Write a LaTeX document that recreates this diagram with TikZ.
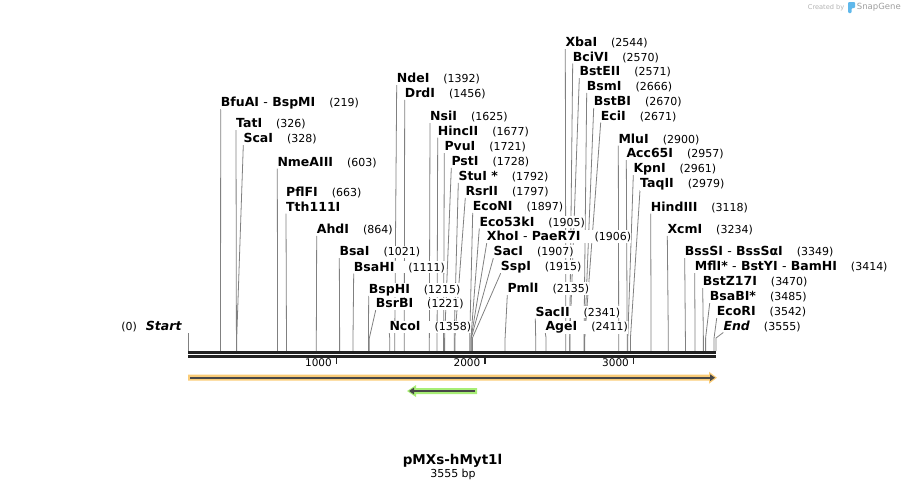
\documentclass[tikz,border=0pt]{standalone}
\usepackage{fontspec}
\setmainfont{DejaVu Sans}
\usetikzlibrary{arrows.meta,positioning,calc,backgrounds}

\definecolor{cutgray}{RGB}{128,128,128}
\definecolor{bargray}{RGB}{34,34,34}
\definecolor{featorange}{RGB}{250,204,120}
\definecolor{featgreen}{RGB}{168,238,118}
\definecolor{featline}{RGB}{72,72,72}
\definecolor{snapblue}{RGB}{96,184,235}

\newcommand{\enzfont}{\fontsize{12.5}{14}\selectfont\bfseries}
\newcommand{\numfont}{\fontsize{11}{13}\selectfont\mdseries}

\begin{document}
\begin{tikzpicture}[x=1pt,y=-1pt]
\useasboundingbox (0,0) rectangle (905,490);

% set style here
\tikzstyle{enz}=[anchor=base west,inner xsep=0pt,inner ysep=1pt,fill=white,font=\enzfont]
\tikzstyle{cut}=[draw=cutgray,line width=0.8pt]
\tikzstyle{tick}=[draw=bargray,line width=1.5pt]
%

% the sequence bar, 0..3555 bp
\coordinate (bar0) at (188,352.3);
\coordinate (bar1) at (716,352.3);
\draw[bargray,line width=2.7pt] (bar0) -- (bar1);
\draw[bargray,line width=2.7pt] ([yshift=-4pt]bar0) -- ([yshift=-4pt]bar1);

% scale ticks
\foreach \t in {1000,2000,3000} {
  \coordinate (t\t) at ({188+\t/3555*528},357.7);
  \draw[tick] (t\t) -- ++(0,6.6);
  \node (tl\t) [anchor=base east,inner sep=0pt,font=\fontsize{10.5}{12}\selectfont]
    at ($(t\t)+(-4.5,9)$) {\t};
}

% start of the sequence
\coordinate (s0) at (188,351);
\coordinate (s0top) at (188,333);
\draw[cut] (s0) -- (s0top);
\node (start) at (181.7,330.7) [anchor=base east,inner sep=0pt]
  {\numfont(0)\hspace{9pt}\enzfont\itshape Start};

% enzyme sites: bp / label x / label baseline / name / position
\foreach \bp/\lx/\ly/\nm/\num [count=\i] in {
  219/220.7/106.7/{BfuAI \textmd{-} BspMI}/(219),
  326/236/127.7/{TatI}/(326),
  328/243.3/142.7/{ScaI}/(328),
  603/277.3/166/{NmeAIII}/(603),
  663/286/211/{Tth111I}/{},
  864/316.7/233.3/{AhdI}/(864),
  1021/339.3/255.7/{BsaI}/(1021),
  1111/353.7/271/{BsaHI}/(1111),
  1215/368.7/293.3/{BspHI}/(1215),
  1221/375.7/307.7/{BsrBI}/(1221),
  1358/389.3/330.7/{NcoI}/(1358),
  1392/396.7/82.7/{NdeI}/(1392),
  1456/404.7/97.3/{DrdI}/(1456),
  1625/430/120.7/{NsiI}/(1625),
  1677/437.7/135/{HincII}/(1677),
  1721/444.3/150.7/{PvuI}/(1721),
  1728/451.3/165.3/{PstI}/(1728),
  1792/458.3/180.3/{StuI *}/(1792),
  1797/465.3/195.3/{RsrII}/(1797),
  1897/472.7/210.3/{EcoNI}/(1897),
  1905/479.3/226/{Eco53kI}/(1905),
  1906/486.7/240.7/{XhoI \textmd{-} PaeR7I}/(1906),
  1907/493.3/255.7/{SacI}/(1907),
  1915/500.7/270.7/{SspI}/(1915),
  2135/507.3/292.7/{PmlI}/(2135),
  2341/535.3/316/{SacII}/(2341),
  2411/545.3/330.7/{AgeI}/(2411),
  2544/565.3/46.7/{XbaI}/(2544),
  2570/572.7/61/{BciVI}/(2570),
  2571/579.3/75.7/{BstEII}/(2571),
  2666/586.7/90.3/{BsmI}/(2666),
  2670/593.7/105.3/{BstBI}/(2670),
  2671/600.7/120/{EciI}/(2671),
  2900/618.3/143/{MluI}/(2900),
  2957/626.3/157.7/{Acc65I}/(2957),
  2961/633.3/172.7/{KpnI}/(2961),
  2979/640/187.7/{TaqII}/(2979),
  3118/650.7/211/{HindIII}/(3118),
  3234/667.3/233.3/{XcmI}/(3234),
  3349/684.7/255.7/{BssSI \textmd{-} BssSαI}/(3349),
  3414/694.7/270.7/{MflI* \textmd{-} BstYI \textmd{-} BamHI}/(3414),
  3470/702.7/285.7/{BstZ17I}/(3470),
  3485/709.7/300.7/{BsaBI*}/(3485),
  3542/716.7/315.7/{EcoRI}/(3542),
  3555/723.3/330/{\textit{End}}/(3555)} {
  \coordinate (s\i) at ({188+\bp/3555*528},351);
  \node (e\i) [enz] at (\lx,\ly) {\nm\hspace{14pt}\numfont\num};
  \begin{pgfonlayer}{background}
    \draw[cut] (s\i) -- ++(0,-13) -- ([yshift=-2.5pt]e\i.base west);
  \end{pgfonlayer}
}

% second name on the Tth111I site
\node (pflfi) at (286,196) [enz] {PflFI\hspace{14pt}\numfont(663)};

% features
\coordinate (orfA) at (190,377.7);
\coordinate (orfB) at (715,377.7);
\fill[featorange] (188,374.7) -- (709,374.7) -- (709,371.7) -- (717,377.7)
  -- (709,383.7) -- (709,380.7) -- (188,380.7) -- cycle;
\draw[featline,line width=1.8pt,-{Triangle[length=5pt,width=6.5pt]}] (orfA) -- (orfB);

\coordinate (orfC) at (475,391);
\coordinate (orfD) at (409,391);
\fill[featgreen] (477,388) -- (416,388) -- (416,385) -- (407,391)
  -- (416,397) -- (416,394) -- (477,394) -- cycle;
\draw[featline,line width=1.8pt,-{Triangle[length=5pt,width=6.5pt]}] (orfC) -- (orfD);

% name and length
\node (title) at (452.5,464.7) [anchor=base,inner sep=0pt,font=\fontsize{13.5}{15}\selectfont\bfseries] {pMXs-hMyt1l};
\node (len) at (453,477.7) [anchor=base,inner sep=0pt,font=\fontsize{11}{13}\selectfont] {3555 bp};

% credit
\node (credit) at (807.7,7.5) [anchor=west,inner sep=0pt,text=black!30,font=\fontsize{6.6}{8}\selectfont] {Created by};
\fill[snapblue,rounded corners=1pt] (848,2) -- (855,2) -- (855,8) -- (851.5,8) -- (851.5,13) -- (848,13) -- cycle;
\node (snapgene) at (856.7,7.5) [anchor=west,inner sep=0pt,text=black!38,font=\fontsize{8.5}{10}\selectfont] {SnapGene};

\end{tikzpicture}
\end{document}
